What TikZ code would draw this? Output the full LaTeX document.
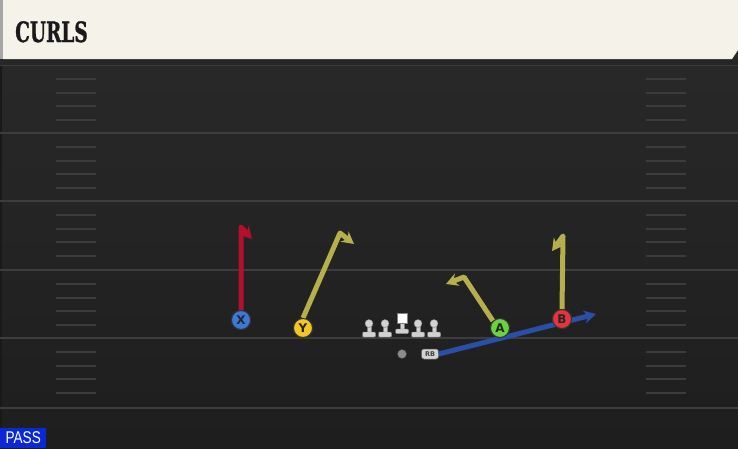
\documentclass[tikz,border=0pt]{standalone}
\usepackage{fontspec}
\usepackage{graphicx}
\setmainfont{DejaVu Sans}
\newfontfamily\titlefont{DejaVu Serif}[FakeBold=1.2]
\newfontfamily\passfont{Liberation Sans}
\usetikzlibrary{arrows.meta,shapes.misc}
\definecolor{fieldtop}{HTML}{2A2A2A}
\definecolor{fieldbot}{HTML}{1E1E1E}
\definecolor{yardcol}{HTML}{3D3D3D}
\definecolor{hashcol}{HTML}{3C3C3C}
\definecolor{headerbg}{HTML}{F5F2EA}
\definecolor{routered}{HTML}{B3102E}
\definecolor{routeolive}{HTML}{B5B04C}
\definecolor{routeblue}{HTML}{2A4FA6}
\definecolor{xblue}{HTML}{3C78D8}
\definecolor{yyellow}{HTML}{F2C624}
\definecolor{agreen}{HTML}{6AD23E}
\definecolor{bred}{HTML}{E2363C}
\definecolor{linegray}{HTML}{D2D2D2}
\definecolor{passblue}{HTML}{0A28D6}
\tikzset{
  player/.style={circle, draw=black!80, line width=1, minimum size=19, inner sep=0,
    font=\fontsize{12}{12}\selectfont\bfseries, text=black!85},
  route/.style={line width=5, line join=round,
    -{Stealth[length=12,width=13,inset=4]}},
  lman/.style={fill=linegray, draw=black!50, line width=0.4},
}
\begin{document}
\begin{tikzpicture}[x=1pt,y=-1pt]
\useasboundingbox (0,0) rectangle (738,448);
\shade[top color=fieldtop, bottom color=fieldbot] (0,0) rectangle (738,448);
\fill[black!40!fieldtop] (0,60) rectangle (2,448);
% yard lines
\foreach \y in {65,133,201,270,338,408} \draw[yardcol, line width=2.4] (0,\y) -- (738,\y);
% hash marks
\foreach \b in {65,133,201,270,338} {
  \foreach \j in {1,2,3,4} {
    \draw[hashcol, line width=2] (56,\b+13.8*\j) -- (96,\b+13.8*\j);
    \draw[hashcol, line width=2] (646,\b+13.8*\j) -- (686,\b+13.8*\j);
  }
}
% header
\fill[black!85] (0,59) rectangle (738,65);
\fill[black!35] (0,0) rectangle (3,59);
\fill[headerbg] (3,0) -- (738,0) -- (738,50) -- (732,59) -- (3,59) -- cycle;
\node[anchor=base west, inner sep=0, font=\titlefont\bfseries\fontsize{28}{28}\selectfont, text=black!90] (title) at (15,42) {\scalebox{0.66}[1]{CURLS}};
% players
\node[player, fill=xblue] (X) at (241,320) {X};
\node[player, fill=yyellow] (Y) at (303,328) {Y};
\node[player, fill=agreen] (A) at (500,328) {A};
\node[player, fill=bred] (B) at (562,319) {B};
\node[rectangle, rounded corners=2.5, fill=linegray, draw=black!60, line width=0.5, minimum width=17, minimum height=10, inner sep=1,
  font=\fontsize{6.5}{6.5}\selectfont\bfseries, text=black!75] (RB) at (430,354) {RB};
\node[circle, fill=black!45, draw=black!70, line width=0.4, minimum size=9, inner sep=0] (QB) at (402,354) {};
% route points
\coordinate (x1) at (241,227);
\coordinate (x2) at (252,239);
\coordinate (y1) at (340,233);
\coordinate (y2) at (354,244);
\coordinate (a1) at (464,277);
\coordinate (a2) at (446,284);
\coordinate (b1) at (563,236);
\coordinate (b2) at (552,251);
\coordinate (r1) at (596,314);
% routes
\draw[route, routeblue] (RB.east) -- (r1);
\draw[route, routered] (X.north) -- (x1) -- (x2);
\draw[route, routeolive] (Y.north) -- (y1) -- (y2);
\draw[route, routeolive] (A.north west) -- (a1) -- (a2);
\draw[route, routeolive] (B.north) -- (b1) -- (b2);
% redraw players on top
\node[player, fill=xblue] at (X) {X};
\node[player, fill=yyellow] at (Y) {Y};
\node[player, fill=agreen] at (A) {A};
\node[player, fill=bred] at (B) {B};
% linemen
\foreach \x in {369,385,418,434} {
  \fill[lman] (\x-2,324) rectangle (\x+2,333);
  \fill[lman] (\x,323.5) circle (4);
  \fill[lman, rounded corners=1] (\x-6.5,332) rectangle (\x+6.5,337);
}
\fill[lman] (400,320) rectangle (404,330);
\fill[white, draw=black!50, line width=0.4] (397,313.5) rectangle (407,323.5);
\fill[lman, rounded corners=1] (395.5,329) rectangle (408.5,333.5);
% PASS label
\node[anchor=south west, fill=passblue, text=white, minimum width=46, minimum height=20, inner sep=0,
  font=\passfont\fontsize{17}{17}\selectfont] (pass) at (0,448) {\scalebox{0.8}[1]{PASS}};
\end{tikzpicture}
\end{document}
